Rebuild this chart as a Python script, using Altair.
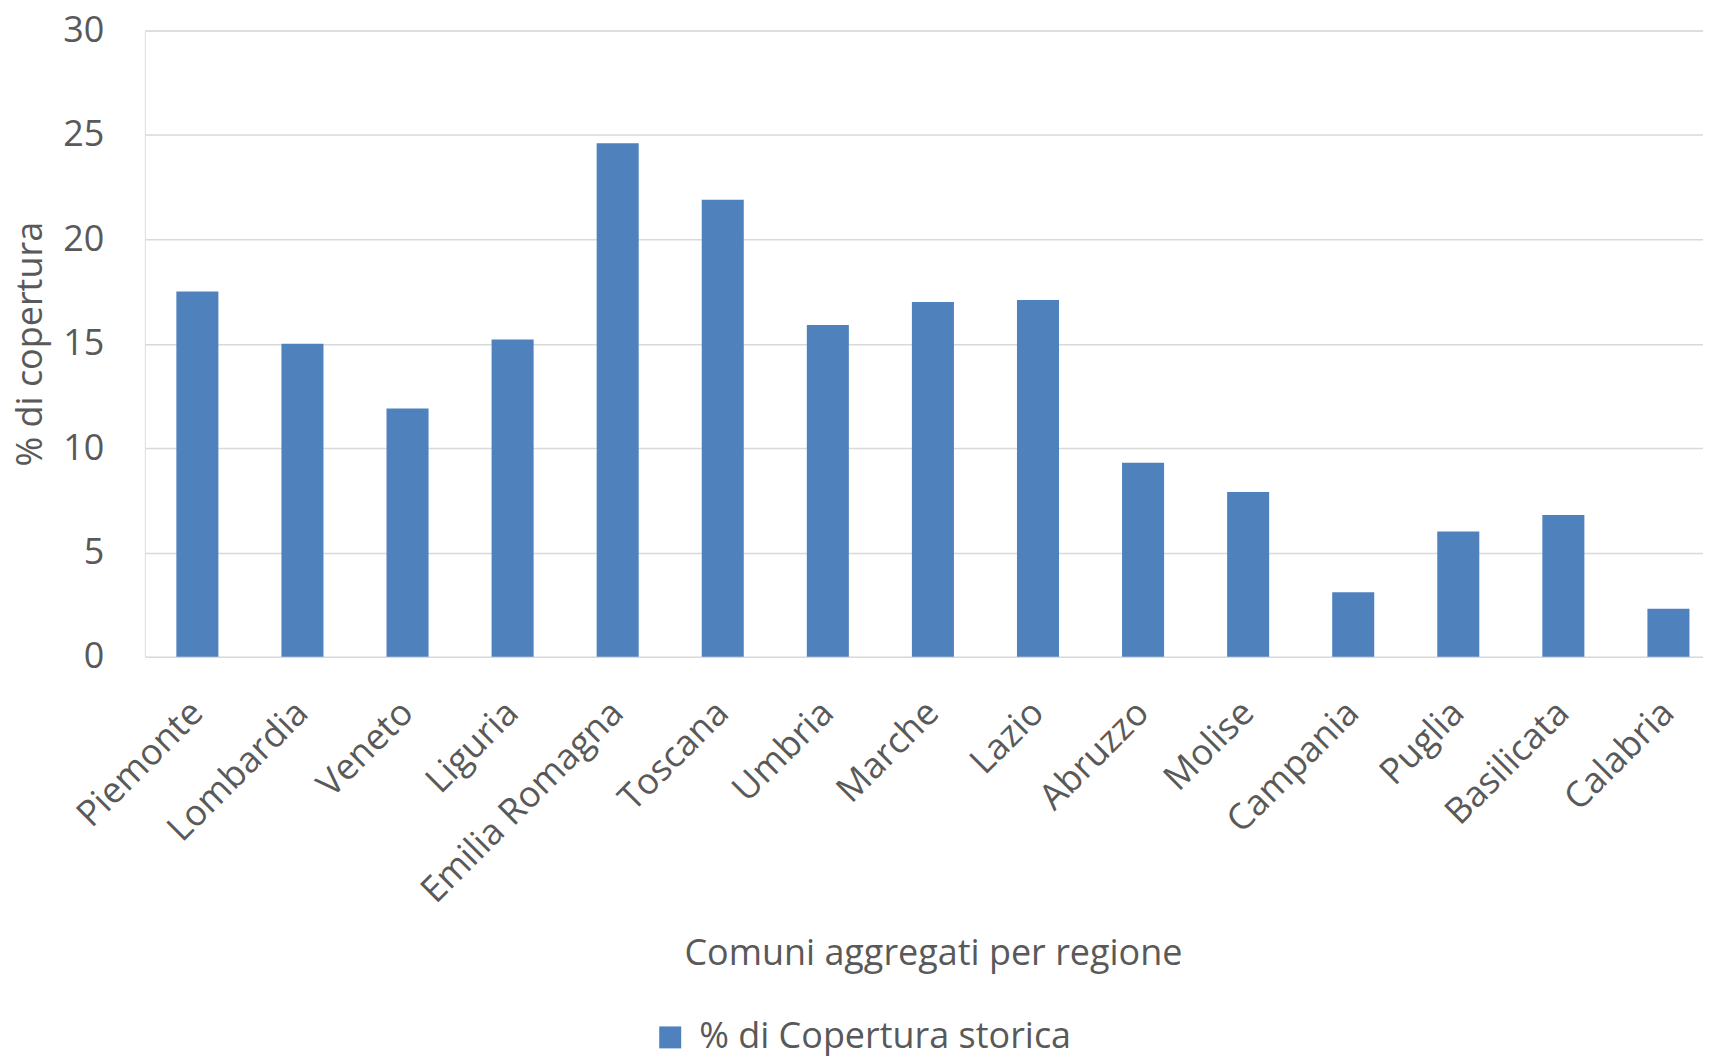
import altair as alt
import pandas as pd

regions = ["Piemonte", "Lombardia", "Veneto", "Liguria", "Emilia Romagna", "Toscana",
           "Umbria", "Marche", "Lazio", "Abruzzo", "Molise", "Campania", "Puglia",
           "Basilicata", "Calabria"]
values = [17.5, 15.0, 11.9, 15.2, 24.6, 21.9, 15.9, 17.0, 17.1, 9.3, 7.9, 3.1, 6.0, 6.8, 2.3]
series_name = "% di Copertura storica"
y_ticks = [0, 5, 10, 15, 20, 25, 30]

df = pd.DataFrame({"regione": regions, "valore": values, "serie": [series_name] * len(regions)})

FONT = "Open Sans"
TXT = "#595959"
W, H = 1560, 627

chart = alt.Chart(df).mark_bar(color="#4F81BD").encode(
    x=alt.X("regione:N", sort=regions,
            scale=alt.Scale(paddingInner=0.6, paddingOuter=0.3, range=[0, 1578]),
            axis=alt.Axis(title="Comuni aggregati per regione", labelAngle=-45,
                          labelAlign="right", labelBaseline="middle", labelLimit=0,
                          labelPadding=50, ticks=False, tickSize=0, domain=False,
                          labelFont=FONT, labelFontSize=36, labelColor=TXT,
                          titleFont=FONT, titleFontSize=36, titleColor=TXT,
                          titleFontWeight="normal", titleX=789, titleY=297,
                          titleBaseline="middle", titleAlign="center")),
    y=alt.Y("valore:Q", scale=alt.Scale(domain=[0, 30], nice=False),
            axis=alt.Axis(title="% di copertura", values=y_ticks, ticks=False, tickSize=0,
                          domain=False, grid=True, gridColor="#D9D9D9", gridWidth=1.5,
                          labelPadding=41, labelFont=FONT, labelFontSize=36, labelColor=TXT,
                          titleFont=FONT, titleFontSize=36, titleColor=TXT,
                          titleFontWeight="normal", titleX=-114, titleY=H / 2,
                          titleBaseline="middle", titleAlign="center", titleAngle=-90)),
    color=alt.Color("serie:N", scale=alt.Scale(range=["#4F81BD"]),
                    legend=alt.Legend(title=None, orient="none", legendX=508, legendY=990,
                                      padding=0, symbolType="square", symbolSize=484,
                                      symbolStrokeWidth=0, labelFont=FONT, labelLimit=0,
                                      labelFontSize=36, labelColor=TXT, labelOffset=11,
                                      direction="horizontal")),
).properties(
    width=W, height=H,
    autosize=alt.AutoSizeParams(type="none"),
    padding={"left": 137, "top": 22, "right": 0, "bottom": 1048 - 22 - H},
).configure_view(stroke=None).configure(background="white")

chart.save("out.html", embed_options={"renderer": "svg", "actions": False})
